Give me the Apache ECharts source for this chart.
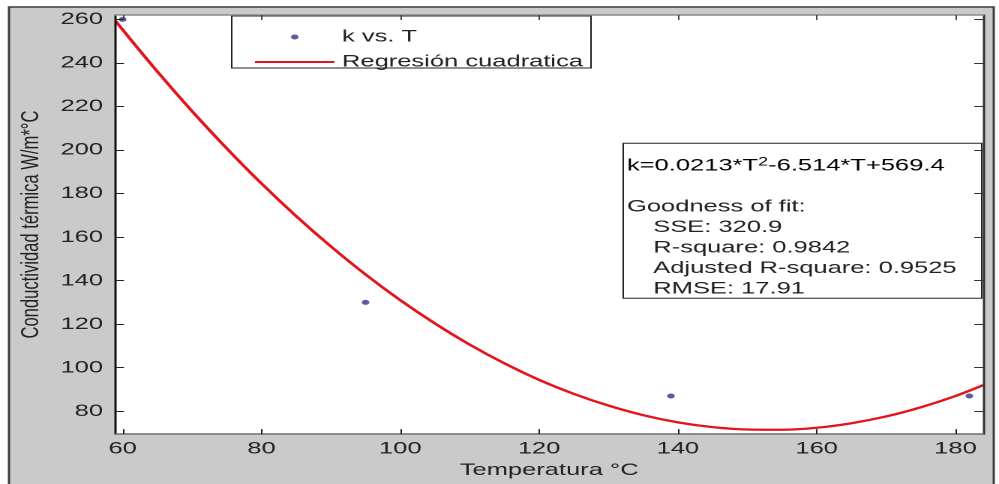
<!DOCTYPE html>
<html>
<head>
<meta charset="utf-8">
<script src="https://cdn.jsdelivr.net/npm/echarts@6/dist/echarts.min.js"></script>
<style>
html,body{margin:0;padding:0;background:#fff;overflow:hidden;width:999px;height:484px;}
#c{width:666px;height:484px;transform:scaleX(1.5);transform-origin:0 0;}
</style>
</head>
<body>
<div id="c"></div>
<script>
// Measured data points (k vs. T)
const ptT = [60, 95, 139, 182];
const ptK = [260, 130, 87, 87];
// Regression curve values
const fitT = [59, 60, 65, 70, 75, 80, 85, 90, 95, 100, 105, 110, 115, 120, 125, 130, 135, 140, 145, 150, 155, 160, 165, 170, 175, 180, 184];
const fitK = [259.2, 255.2, 236.0, 217.8, 200.7, 184.6, 169.6, 155.7, 142.8, 131.0, 120.3, 110.6, 102.0, 94.4, 88.0, 82.6, 78.2, 74.9, 72.7, 71.6, 71.5, 72.4, 74.5, 77.6, 81.8, 87.0, 92.0];
// Tick labels
const xTicks = [60, 80, 100, 120, 140, 160, 180];
const yTicks = [80, 100, 120, 140, 160, 180, 200, 220, 240, 260];
// Texts
const seriesNames = ['k vs. T', 'Regresión cuadratica'];
const xName = 'Temperatura °C';
const yName = 'Conductividad térmica W/m*°C';
const fitLines = ['Goodness of fit:', 'SSE: 320.9', 'R-square: 0.9842', 'Adjusted R-square: 0.9525', 'RMSE: 17.91'];

const FONT = '"Liberation Sans", Arial, sans-serif';
const chart = echarts.init(document.getElementById('c'), null, {devicePixelRatio: 2});

const xRange = {min: 58.9, max: 184};
const yRange = {min: 69.5, max: 262};

function tickAxis(extra) {
  return Object.assign({
    type: 'value',
    splitLine: {show: false},
    z: 10
  }, extra);
}

const option = {
  animation: false,
  backgroundColor: '#fff',
  textStyle: {fontFamily: FONT},
  grid: {left: 76.7, right: 10.5, top: 15, bottom: 46, show: true, backgroundColor: '#fff', borderWidth: 0, z: 1},
  graphic: [
    {type: 'rect', z: 0, zlevel: 0, silent: true,
     shape: {x: 6, y: 7, width: 656.5, height: 500},
     style: {fill: '#cacaca', stroke: '#3a3a3a', lineWidth: 1.5}},
    {type: 'rect', z: 3, silent: true,
     shape: {x: 154.5, y: 16, width: 239.5, height: 52},
     style: {fill: '#fff', stroke: '#222', lineWidth: 1}},
    {type: 'rect', z: 3, silent: true,
     shape: {x: 415.5, y: 143.3, width: 239, height: 155},
     style: {fill: '#fff', stroke: '#222', lineWidth: 1}},
    {type: 'text', z: 4, silent: true, x: 418, y: 166,
     style: {text: '{a|k=0.0213*T}{s|2}{a|-6.514*T+569.4}', textVerticalAlign: 'middle', textAlign: 'left',
       rich: {a: {fontSize: 17, fontFamily: FONT, color: '#222', lineHeight: 20, verticalAlign: 'middle'},
              s: {fontSize: 12, fontFamily: FONT, color: '#222', lineHeight: 12, verticalAlign: 'top'}}}},
    {type: 'text', z: 4, silent: true, x: 418, y: 207,
     style: {text: fitLines[0], font: '17px ' + FONT, fill: '#222', textVerticalAlign: 'middle'}},
    {type: 'text', z: 4, silent: true, x: 435.5, y: 227.5,
     style: {text: fitLines[1], font: '17px ' + FONT, fill: '#222', textVerticalAlign: 'middle'}},
    {type: 'text', z: 4, silent: true, x: 435.5, y: 248,
     style: {text: fitLines[2], font: '17px ' + FONT, fill: '#222', textVerticalAlign: 'middle'}},
    {type: 'text', z: 4, silent: true, x: 435.5, y: 268.5,
     style: {text: fitLines[3], font: '17px ' + FONT, fill: '#222', textVerticalAlign: 'middle'}},
    {type: 'text', z: 4, silent: true, x: 435.5, y: 289,
     style: {text: fitLines[4], font: '17px ' + FONT, fill: '#222', textVerticalAlign: 'middle'}}
  ],
  legend: {
    orient: 'vertical', left: 164, top: 23.5, z: 5,
    itemWidth: 53, itemHeight: 5, itemGap: 8,
    textStyle: {fontSize: 17, color: '#222', fontFamily: FONT, lineHeight: 17},
    data: [
      {name: seriesNames[0], icon: 'circle'},
      {name: seriesNames[1], itemStyle: {opacity: 0, borderWidth: 0}}
    ]
  },
  xAxis: [
    tickAxis({position: 'bottom', min: xRange.min, max: xRange.max,
      axisLine: {show: true, lineStyle: {color: '#6e6e6e', width: 1.5}},
      axisTick: {show: true, inside: true, length: 5, customValues: xTicks, lineStyle: {color: '#222'}},
      axisLabel: {show: true, customValues: xTicks, margin: 6, fontSize: 17, color: '#222', fontFamily: FONT},
      name: xName, nameLocation: 'middle', nameGap: 26,
      nameTextStyle: {fontSize: 17, color: '#222', fontFamily: FONT}}),
    tickAxis({position: 'top', min: xRange.min, max: xRange.max,
      axisLine: {show: true, lineStyle: {color: '#8a8a8a', width: 1.5}},
      axisTick: {show: true, inside: true, length: 5, customValues: xTicks, lineStyle: {color: '#444'}},
      axisLabel: {show: false}})
  ],
  yAxis: [
    tickAxis({position: 'left', min: yRange.min, max: yRange.max,
      axisLine: {show: true, lineStyle: {color: '#111', width: 1.5}},
      axisTick: {show: true, inside: true, length: 6, customValues: yTicks, lineStyle: {color: '#222'}},
      axisLabel: {show: true, customValues: yTicks, margin: 8, fontSize: 17, color: '#222', fontFamily: FONT},
      name: yName, nameLocation: 'middle', nameGap: 46,
      nameTextStyle: {fontSize: 16.6, color: '#222', fontFamily: FONT}}),
    tickAxis({position: 'right', min: yRange.min, max: yRange.max,
      axisLine: {show: true, lineStyle: {color: '#333', width: 1.5}},
      axisTick: {show: true, inside: true, length: 6, customValues: yTicks, lineStyle: {color: '#333'}},
      axisLabel: {show: false}})
  ],
  series: [
    {
      name: seriesNames[0], type: 'scatter', xAxisIndex: 0, yAxisIndex: 0, z: 6,
      symbol: 'circle', symbolSize: 5,
      itemStyle: {color: '#3a2d8f'},
      data: ptT.map((t, i) => [t, ptK[i]])
    },
    {
      name: seriesNames[1], type: 'line', xAxisIndex: 0, yAxisIndex: 0, z: 5,
      smooth: 0.3, showSymbol: false, symbol: 'none',
      lineStyle: {color: '#e3141c', width: 2.3},
      itemStyle: {color: '#e3141c'},
      data: fitT.map((t, i) => [t, fitK[i]])
    }
  ]
};
chart.setOption(option);
</script>
</body>
</html>
